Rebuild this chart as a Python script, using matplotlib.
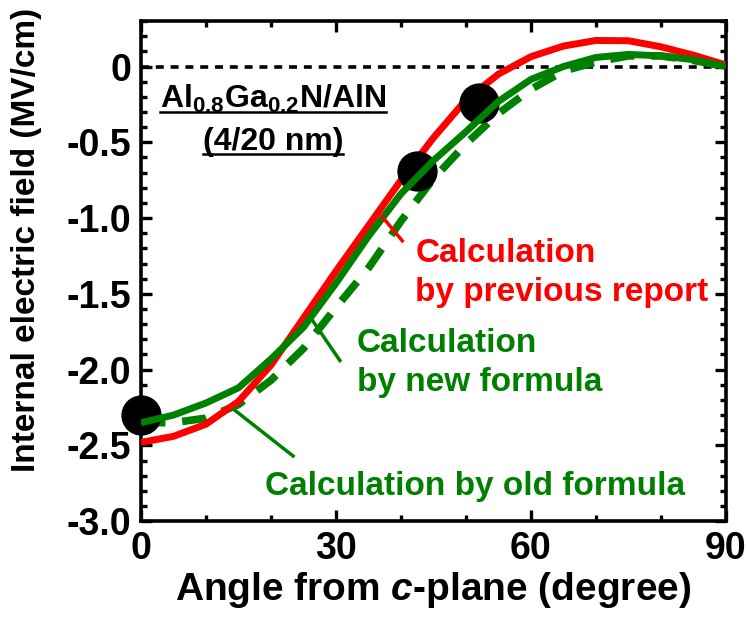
import matplotlib
matplotlib.use('Agg')
import matplotlib.pyplot as plt
from matplotlib.lines import Line2D
from matplotlib.ticker import MultipleLocator, FuncFormatter

plt.rcParams['font.family'] = ['Liberation Sans', 'DejaVu Sans']
plt.rcParams['font.weight'] = 'bold'
plt.rcParams['axes.unicode_minus'] = False
plt.rcParams['mathtext.fontset'] = 'custom'
plt.rcParams['mathtext.rm'] = 'Liberation Sans:bold'
plt.rcParams['mathtext.it'] = 'Liberation Sans:italic:bold'
plt.rcParams['mathtext.bf'] = 'Liberation Sans:bold'

# angle from c-plane (degree)
angle = [0, 5, 10, 15, 20, 25, 30, 35, 40, 45, 50, 55, 60, 65, 70, 75, 80, 85, 90]
# internal electric field (MV/cm)
field_previous = [-2.48, -2.44, -2.36, -2.21, -1.97, -1.66, -1.35, -1.05, -0.75, -0.47,
                  -0.22, -0.05, 0.065, 0.135, 0.172, 0.17, 0.13, 0.075, 0.01]
field_new = [-2.35, -2.30, -2.22, -2.12, -1.93, -1.72, -1.43, -1.12, -0.84, -0.62,
             -0.43, -0.23, -0.085, 0.0, 0.06, 0.08, 0.07, 0.045, 0.0]
field_old = [-2.35, -2.35, -2.32, -2.23, -2.07, -1.86, -1.59, -1.33, -1.02, -0.74,
             -0.51, -0.31, -0.15, -0.03, 0.03, 0.07, 0.07, 0.04, 0.0]
# measured points
exp_angle = [0, 42.5, 52]
exp_field = [-2.30, -0.69, -0.24]

RED = '#ff0000'
GREEN = '#008000'

fig = plt.figure(figsize=(7.48, 6.19), dpi=100)
ax = fig.add_axes([0.1885, 0.158, 0.782, 0.808])

ax.plot([0, 90], [0, 0], color='black', lw=2.6, dashes=(2.2, 1.9), zorder=1)
ax.plot(angle, field_old, color=GREEN, lw=5.5, dashes=(3.2, 2.2), zorder=2)
ax.plot(angle, field_previous, color=RED, lw=5, zorder=3, solid_capstyle='butt')
ax.plot(exp_angle, exp_field, 'o', color='black', ms=28, zorder=4, clip_on=False)
ax.plot(angle, field_new, color=GREEN, lw=5, zorder=5, solid_capstyle='butt')

# leader lines from labels to curves
ax.plot([37.1, 40.2], [-0.99, -1.15], color=RED, lw=2.5, zorder=6)
ax.plot([26.3, 30.6], [-1.67, -1.94], color=GREEN, lw=2.5, zorder=6)
ax.plot([14.2, 23.4], [-2.26, -2.57], color=GREEN, lw=2.5, zorder=6)

fs = 24
ax.text(42.2, -1.29, 'Calculation', color=RED, fontsize=fs, fontweight='bold', va='baseline')
ax.text(42.2, -1.548, 'by previous report', color=RED, fontsize=fs, fontweight='bold', va='baseline')
ax.text(33.2, -1.884, 'Calculation', color=GREEN, fontsize=fs, fontweight='bold', va='baseline')
ax.text(33.2, -2.14, 'by new formula', color=GREEN, fontsize=fs, fontweight='bold', va='baseline')
ax.text(19.1, -2.83, 'Calculation by old formula', color=GREEN, fontsize=fs, fontweight='bold', va='baseline')

t1 = ax.text(20.3, -0.27, r'Al$_{\mathrm{0.8}}$Ga$_{\mathrm{0.2}}$N/AlN', fontsize=23,
             fontweight='bold', ha='center', va='baseline')
t2 = ax.text(20.3, -0.55, '(4/20 nm)', fontsize=23, fontweight='bold', ha='center', va='baseline')

ax.set_xlim(0, 90)
ax.set_ylim(-3.0, 0.3)
ax.xaxis.set_major_locator(MultipleLocator(30))
ax.xaxis.set_minor_locator(MultipleLocator(10))
ax.yaxis.set_major_locator(MultipleLocator(0.5))
ax.yaxis.set_minor_locator(MultipleLocator(0.1))
ax.yaxis.set_major_formatter(FuncFormatter(lambda v, p: '0' if abs(v) < 1e-9 else '%.1f' % v))

for s in ax.spines.values():
    s.set_linewidth(2.6)
ax.tick_params(which='both', direction='in', top=True, right=True, width=2.4)
ax.tick_params(which='major', length=8, labelsize=27, pad=7)
ax.tick_params(which='minor', length=4.5)
for lab in ax.get_xticklabels() + ax.get_yticklabels():
    lab.set_fontweight('bold')

ax.set_xlabel(r'Angle from $c$-plane (degree)', fontsize=28, fontweight='bold', labelpad=2)
ax.set_ylabel('Internal electric field (MV/cm)', fontsize=24, fontweight='bold')
ax.yaxis.set_label_coords(-0.17, 0.562)

# underline the sample label
fig.canvas.draw()
r = fig.canvas.get_renderer()
inv = fig.transFigure.inverted()
for t in (t1, t2):
    bb = t.get_window_extent(renderer=r)
    x0, y0 = inv.transform((bb.x0, bb.y0 + 3))
    x1, _ = inv.transform((bb.x1, bb.y0 + 3))
    fig.add_artist(Line2D([x0, x1], [y0, y0], color='black', lw=1.8, transform=fig.transFigure))

fig.savefig('out.png', dpi=100)
